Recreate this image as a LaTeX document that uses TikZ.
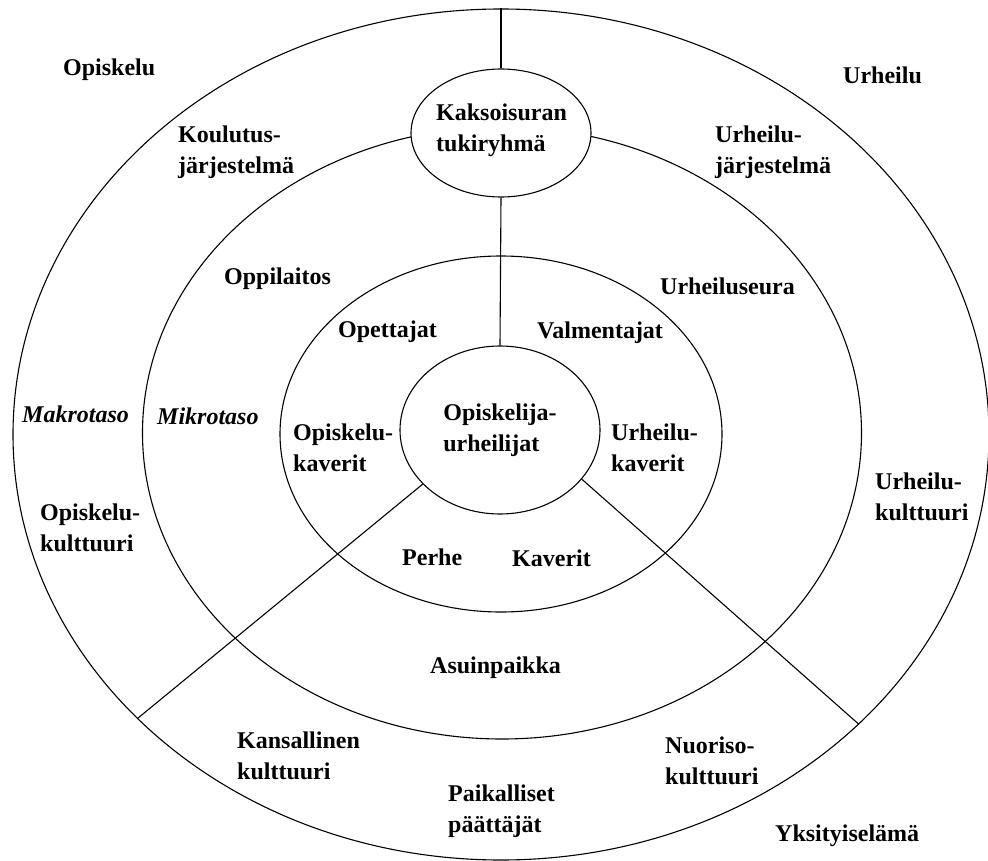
\documentclass[tikz,border=0pt]{standalone}
\usepackage{fontspec}
\newfontfamily\lbl{Liberation Serif}
\usetikzlibrary{shapes.geometric}
\begin{document}
\begin{tikzpicture}[x=1pt,y=-1pt,
  ring/.style={draw,ellipse,line width=1.1pt,inner sep=0pt},
  lab/.style={font=\lbl\bfseries\fontsize{24}{31}\selectfont, align=left, anchor=west, inner sep=0pt},
  itl/.style={lab, font=\lbl\bfseries\itshape\fontsize{24}{31}\selectfont},
  conn/.style={line width=1.1pt}]
\useasboundingbox (0,0) rectangle (988,861);
% rings
\node[ring,minimum width=976pt,minimum height=851pt] (outer) at (501,434.5) {};
\node[ring,minimum width=719pt,minimum height=612pt] (middle) at (502,433) {};
\node[ring,minimum width=442pt,minimum height=356pt] (inner) at (501,434) {};
\node[ring,fill=white,minimum width=180pt,minimum height=128pt] (kakso) at (501,133) {};
\node[ring,minimum width=200pt,minimum height=168pt,
      font=\lbl\bfseries\fontsize{24}{31}\selectfont,align=left] (core) at (500,430) {Opiskelija-\\urheilijat};
% connectors
\draw[conn] (outer.north) -- (kakso.north);
\draw[conn] (kakso.south) -- (core.north);
\draw[conn] (core.215.5) -- (outer.218.6);
\draw[conn] (core.-31.9) -- (outer.-39.4);
% labels
\node[lab] (kt) at (436,130) {Kaksoisuran\\tukiryhmä};
\node[lab] (op) at (63,70) {Opiskelu};
\node[lab] (kj) at (178,152) {Koulutus-\\järjestelmä};
\node[lab] (ur) at (843,75) {Urheilu};
\node[lab] (uj) at (715,152) {Urheilu-\\järjestelmä};
\node[lab] (ol) at (224,279) {Oppilaitos};
\node[lab] (us) at (660,286) {Urheiluseura};
\node[lab] (ot) at (338,332) {Opettajat};
\node[lab] (vm) at (537,333) {Valmentajat};
\node[itl] (mk) at (22,414) {Makrotaso};
\node[itl] (mi) at (157,416) {Mikrotaso};
\node[lab] (ok) at (293,448) {Opiskelu-\\kaverit};
\node[lab] (uk) at (611,448) {Urheilu-\\kaverit};
\node[lab] (pe) at (402,557) {Perhe};
\node[lab] (kv) at (512,558) {Kaverit};
\node[lab] (okl) at (40,528) {Opiskelu-\\kulttuuri};
\node[lab] (ukl) at (875,497) {Urheilu-\\kulttuuri};
\node[lab] (ap) at (430,668) {Asuinpaikka};
\node[lab] (kk) at (237,756) {Kansallinen\\kulttuuri};
\node[lab] (pp) at (448,811) {Paikalliset\\päättäjät};
\node[lab] (nk) at (665,761) {Nuoriso-\\kulttuuri};
\node[lab] (yk) at (775,836) {Yksityiselämä};
\end{tikzpicture}
\end{document}
